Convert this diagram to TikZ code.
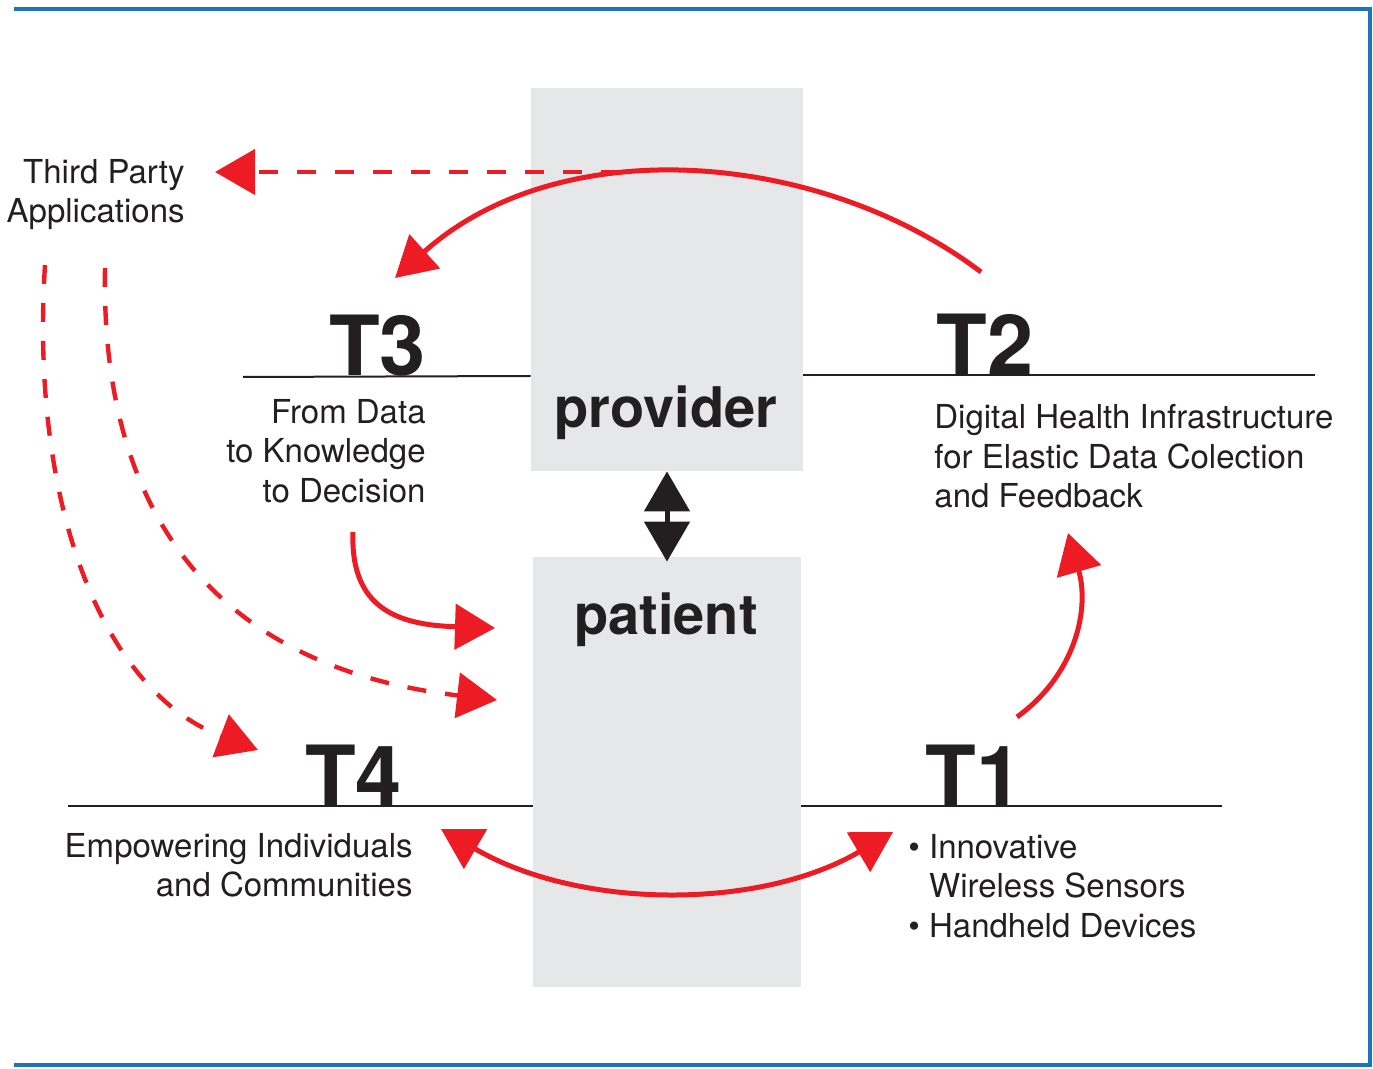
\documentclass[tikz,border=0pt]{standalone}
\usepackage{fontspec}
\setmainfont{TeX Gyre Heros}
\usepackage{tikz}
\usetikzlibrary{arrows.meta,positioning}
\definecolor{hsred}{RGB}{237,28,36}
\definecolor{hsblue}{RGB}{28,117,188}
\definecolor{hsgray}{RGB}{230,231,232}
\definecolor{hsblack}{RGB}{35,31,32}
\tikzstyle{area} = [fill=hsgray, inner sep=0pt]
\tikzstyle{stage} = [font=\fontsize{41.5}{41.5}\selectfont\bfseries, text=hsblack, inner sep=0pt, anchor=base]
\tikzstyle{role} = [font=\fontsize{28}{28}\selectfont\bfseries, text=hsblack, inner sep=0pt, anchor=base]
\tikzstyle{note} = [font=\fontsize{16.5}{19.75}\selectfont, text=hsblack, inner sep=0pt]
\tikzstyle{stageline} = [draw=hsblack, line width=1pt]
\tikzstyle{feed} = [line width=2.2pt, dash pattern=on 9.5pt off 9.5pt]

\begin{document}
\begin{tikzpicture}[x=0.5pt,y=-0.5pt,>={Triangle[length=20pt,width=22.5pt]}]
  \useasboundingbox (0,0) rectangle (1373,1069);
  \draw[draw=hsblue, line width=2pt] (14,9) -- (1370,9) -- (1370,1065) -- (14,1065);

  \node[area,minimum width=136pt,minimum height=191.5pt] (providerBox) at (667,279.5) {};
  \node[area,minimum width=134pt,minimum height=215pt] (patientBox) at (667,772) {};
  \node[role] (provider) at (666,428) {provider};
  \node[role] (patient) at (666,635) {patient};

  \node[stage] (tThree) at (377.5,376) {T3};
  \node[stage] (tTwo) at (985,375) {T2};
  \node[stage] (tFour) at (353.5,806) {T4};
  \node[stage] (tOne) at (974,806) {T1};

  \draw[stageline] (243,377) -- (providerBox.west |- tThree.base);
  \draw[stageline] (providerBox.east |- tTwo.base) -- (1315,375);
  \draw[stageline] (68,806) -- (patientBox.west |- tFour.base);
  \draw[stageline] (patientBox.east |- tOne.base) -- (1222,806);

  \node[note,align=right,anchor=north east] (thirdParty) at (185,159) {Third Party\\Applications};
  \node[note,align=right,anchor=north east] (fromData) at (426,399) {From Data\\to Knowledge\\to Decision};
  \node[note,align=left,anchor=north west] (digitalHealth) at (934,404) {Digital Health Infrastructure\\for Elastic Data Colection\\and Feedback};
  \node[note,align=right,anchor=north east] (empowering) at (413,833) {Empowering Individuals\\and Communities};
  \node[note,align=left,anchor=north west] (devices) at (908,834) {\textbullet\ Innovative\\\phantom{\textbullet\ }Wireless Sensors\\\textbullet\ Handheld Devices};

  % free ends of the red connectors
  \coordinate (twoOut) at (981,272);
  \coordinate (threeIn) at (395,278);
  \coordinate (appsOut) at (620,172);
  \coordinate (appsIn) at (215,172);
  \coordinate (threeOut) at (353,532);
  \coordinate (patientIn) at (495,628);
  \coordinate (appsDownA) at (105,268);
  \coordinate (patientInB) at (497,700);
  \coordinate (appsDownB) at (45,265);
  \coordinate (fourIn) at (258,750);
  \coordinate (oneOut) at (1017,717);
  \coordinate (twoIn) at (1068,533);
  \coordinate (fourEnd) at (441,829);
  \coordinate (oneEnd) at (893,832);

  \begin{scope}[every path/.style={draw=hsred,line width=2.5pt}]
    \path[->] (twoOut) .. controls (820,150) and (560,130) .. (threeIn);
    \path[->,feed] (appsOut) -- (appsIn);
    \path[->] (threeOut) .. controls (350,610) and (400,625) .. (patientIn);
    \path[->,feed] (appsDownA) .. controls (100,540) and (240,670) .. (patientInB);
    \path[->,feed] (appsDownB) .. controls (30,500) and (100,690) .. (fourIn);
    \path[->] (oneOut) .. controls (1075,675) and (1090,610) .. (twoIn);
    \path[<->] (fourEnd) .. controls (580,910) and (760,910) .. (oneEnd);
  \end{scope}

  \draw[<->,draw=hsblack,line width=2.5pt] (providerBox.south) -- ([yshift=-2.5pt]patientBox.north);
\end{tikzpicture}
\end{document}
